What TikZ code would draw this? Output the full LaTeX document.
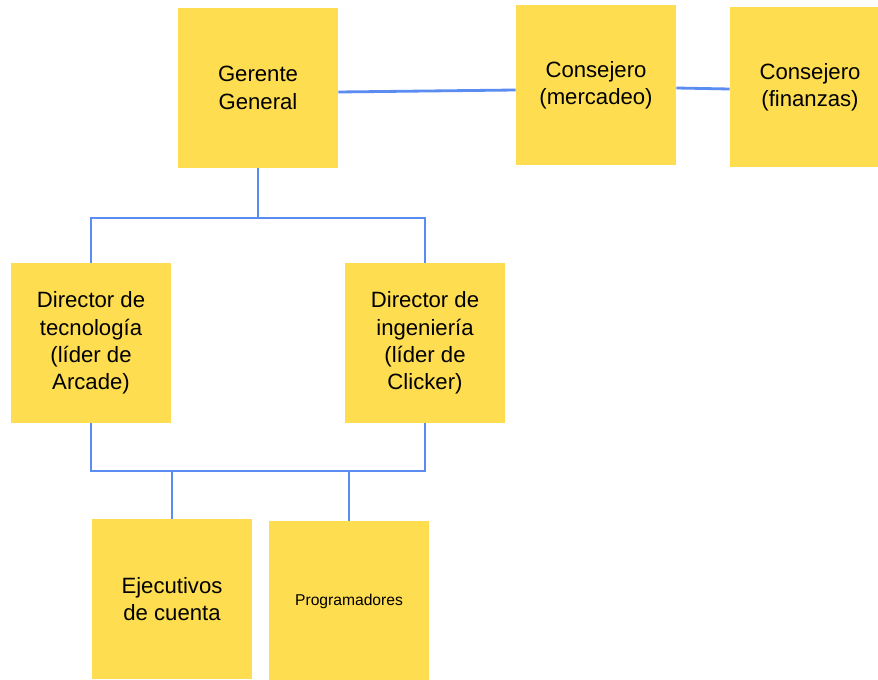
\documentclass[tikz,border=0pt]{standalone}
\usepackage{fontspec}
\setmainfont{Liberation Sans}
\usepackage{xcolor}
\usepackage{tikz}
\usetikzlibrary{positioning}
\definecolor{postit}{RGB}{254,221,80}
\definecolor{linkblue}{RGB}{90,140,242}
\tikzset{
  every node/.style = {transform shape},        % respect scale
  card/.style       = {rectangle, fill=postit, inner sep=0pt,
                       minimum width=3.2cm, minimum height=3.2cm,
                       align=center, font=\fontsize{12.6}{15.6}\selectfont},
  smallcard/.style  = {card, font=\fontsize{8.9}{11}\selectfont},
  link/.style       = {draw=linkblue, line width=1.6pt}
}

\begin{document}
\begin{tikzpicture}[x=0.02cm, y=-0.02cm]
  \useasboundingbox (0,0) rectangle (878,679);
  % top row
  \node[card] (gerente)  at (258,88)  {Gerente\\General};
  \node[card] (mercadeo) at (596,85)  {Consejero\\(mercadeo)};
  \node[card] (finanzas) at (810,87)  {Consejero\\(finanzas)};
  % directors
  \node[card] (tecno) at (91,343)  {Director de\\tecnología\\(líder de\\Arcade)};
  \node[card] (inge)  at (425,343) {Director de\\ingeniería\\(líder de\\Clicker)};
  % staff
  \node[card]      (ejec) at (172,599) {Ejecutivos\\de cuenta};
  \node[smallcard] (prog) at (349,601) {Programadores};
  % joints
  \coordinate (top)    at (258,218);
  \coordinate (bottom) at (260,471);
  % links
  \draw[link] ([yshift=-0.08cm]gerente.east) -- ([yshift=-0.1cm]mercadeo.west);
  \draw[link] ([yshift=-0.06cm]mercadeo.east) -- ([yshift=-0.04cm]finanzas.west);
  \draw[link] (gerente.south) -- (top);
  \draw[link] (tecno.north) |- (top) -| (inge.north);
  \draw[link] (tecno.south) |- (bottom) -| (inge.south);
  \draw[link] (ejec.north) -- (ejec.north |- bottom);
  \draw[link] (prog.north) -- (prog.north |- bottom);
\end{tikzpicture}
\end{document}
